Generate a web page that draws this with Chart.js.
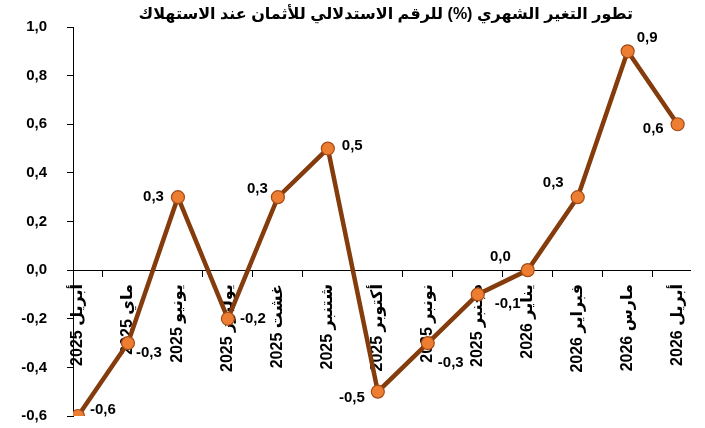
<!DOCTYPE html>
<html lang="ar">
<head>
<meta charset="utf-8">
<script src="https://cdn.jsdelivr.net/npm/chart.js@4/dist/chart.umd.min.js"></script>
<style>
    body { margin: 0; background: #fff; }
</style>
</head>
<body>
<canvas id="grafica" width="705" height="428"></canvas>
<script>
const titulo = "تطور التغير الشهري (%) للرقم الاستدلالي للأثمان عند الاستهلاك"
const meses = ["أبريل 2025", "ماي 2025", "يونيو 2025", "يوليوز 2025", "غشت 2025", "شتنبر 2025", "أكتوبر 2025",
    "نونبر 2025", "دجنبر 2025", "يناير 2026", "فبراير 2026", "مارس 2026", "أبريل 2026"]
const variacion = [-0.6, -0.3, 0.3, -0.2, 0.3, 0.5, -0.5, -0.3, -0.1, 0.0, 0.3, 0.9, 0.6]
const ticksY = [-0.6, -0.4, -0.2, 0.0, 0.2, 0.4, 0.6, 0.8, 1.0]

const fuente = "Arial, 'Liberation Sans', 'DejaVu Sans', sans-serif"
const coma = v => v.toFixed(1).replace(".", ",")

// Etiquetas de valores junto a cada punto
const etiquetas = {
    id: "etiquetas",
    afterDatasetsDraw(chart) {
        const ctx = chart.ctx
        const puntos = chart.getDatasetMeta(0).data
        const sitio = [[12, -6, "left"], [8, 10, "left"], [-14, 0, "right"], [12, 0, "left"], [-10, -8, "right"],
            [14, -3, "left"], [-13, 6, "right"], [10, 20, "left"], [17, 9, "left"], [-17, -13, "right"],
            [-14, -14, "right"], [9, -13, "left"], [-14, 5, "right"]]
        ctx.save()
        ctx.font = "bold 15px " + fuente
        ctx.fillStyle = "#000"
        ctx.textBaseline = "middle"
        puntos.forEach((p, i) => {
            ctx.textAlign = sitio[i][2]
            ctx.fillText(coma(variacion[i]), p.x + sitio[i][0], p.y + sitio[i][1])
        })
        ctx.restore()
    }
}

// Título centrado sobre el área del gráfico
const cabecera = {
    id: "cabecera",
    afterDraw(chart) {
        const ctx = chart.ctx
        const area = chart.chartArea
        ctx.save()
        ctx.font = "bold 16px " + fuente
        ctx.fillStyle = "#000"
        ctx.textAlign = "center"
        ctx.textBaseline = "middle"
        ctx.fillText(titulo, (area.left + area.right) / 2 + 4, 15)
        ctx.restore()
    }
}

new Chart(document.getElementById("grafica"), {
    type: "line",
    data: {
        datasets: [{
            data: variacion.map((v, i) => ({ x: i, y: v })),
            borderColor: "#843C0C",
            borderWidth: 4.5,
            pointBackgroundColor: "#ED7D31",
            pointBorderColor: "#A44A17",
            pointBorderWidth: 1.2,
            pointRadius: 6.5,
            tension: 0
        }]
    },
    plugins: [etiquetas, cabecera],
    options: {
        responsive: false,
        animation: false,
        layout: { padding: { top: 27, right: 5, bottom: 12, left: 0 } },
        plugins: {
            legend: { display: false },
            tooltip: { enabled: false },
            title: { display: false }
        },
        scales: {
            x: {
                type: "linear",
                position: { y: 0 },
                min: -0.1,
                max: 12.26,
                afterFit: s => { s.height = 0 },
                afterBuildTicks: s => {
                    const lista = []
                    meses.forEach((m, i) => {
                        lista.push({ value: i })
                        if (i < meses.length - 1) lista.push({ value: i + 0.5 })
                    })
                    s.ticks = lista
                },
                grid: {
                    drawOnChartArea: false,
                    tickLength: 6,
                    color: c => (c.tick && c.tick.value % 1 !== 0) ? "#000" : "rgba(0,0,0,0)"
                },
                border: { color: "#000", width: 1 },
                ticks: {
                    autoSkip: false,
                    minRotation: 90,
                    maxRotation: 90,
                    padding: 8,
                    color: "#000",
                    font: { family: fuente, size: 16, weight: "bold" },
                    callback: v => Number.isInteger(v) ? meses[v] : ""
                }
            },
            y: {
                min: -0.6,
                max: 1.0,
                afterFit: s => {
                    s.width = 73
                    s.paddingTop = 0
                    s.paddingBottom = 0
                },
                afterBuildTicks: s => { s.ticks = ticksY.map(v => ({ value: v })) },
                grid: { drawOnChartArea: false, tickLength: 6, color: "#000" },
                border: { color: "#000", width: 1 },
                ticks: {
                    padding: 20,
                    color: "#000",
                    font: { family: fuente, size: 15, weight: "bold" },
                    callback: v => coma(v)
                }
            }
        }
    }
})
</script>
</body>
</html>
